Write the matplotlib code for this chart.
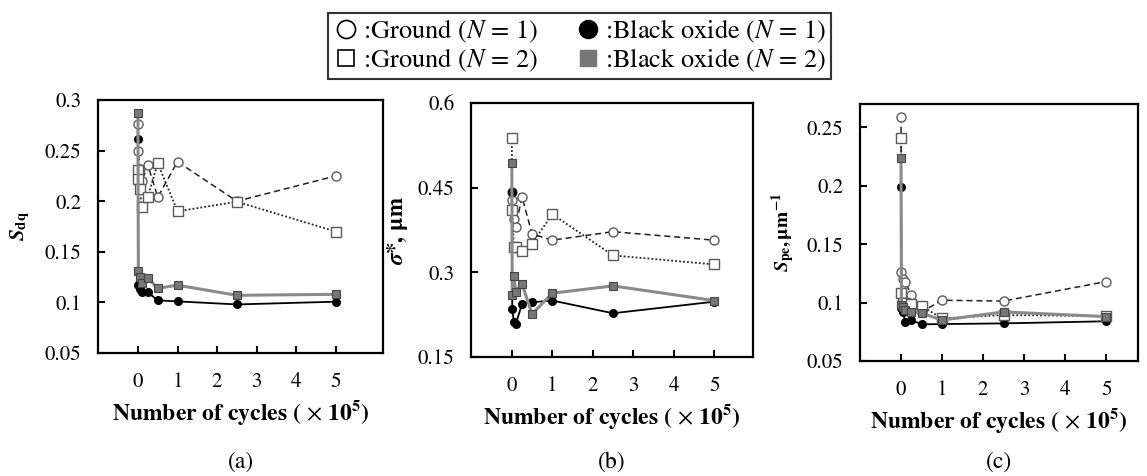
import matplotlib
matplotlib.use("Agg")
import matplotlib.pyplot as plt
from matplotlib.lines import Line2D
from matplotlib.ticker import FixedLocator

plt.rcParams['font.family'] = ['STIXGeneral', 'DejaVu Serif']
plt.rcParams['mathtext.fontset'] = 'stix'

# ---- data (cycles in units of 1e5) ----
cycles = [0, 0.01, 0.05, 0.1, 0.25, 0.5, 1, 2.5, 5]

# (a) Sdq
sdq_ground1 = [0.276, 0.250, 0.232, 0.220, 0.236, 0.204, 0.239, 0.200, 0.225]
sdq_ground2 = [0.231, 0.222, 0.212, 0.1945, 0.2045, 0.2375, 0.190, 0.1995, 0.170]
sdq_black1 = [0.261, 0.117, 0.113, 0.1106, 0.110, 0.102, 0.101, 0.098, 0.1007]
sdq_black2 = [0.287, 0.131, 0.125, 0.119, 0.124, 0.114, 0.117, 0.107, 0.108]

# (b) sigma*
sig_ground1 = [0.443, 0.428, 0.395, 0.381, 0.434, 0.368, 0.357, 0.372, 0.357]
sig_ground2 = [0.5375, 0.410, 0.345, 0.345, 0.338, 0.351, 0.403, 0.330, 0.314]
sig_black1 = [0.443, 0.235, 0.2126, 0.2085, 0.244, 0.247, 0.250, 0.2275, 0.248]
sig_black2 = [0.493, 0.260, 0.2935, 0.266, 0.280, 0.226, 0.263, 0.276, 0.250]

# (c) Spe
spe_ground1 = [0.259, 0.126, 0.120, 0.118, 0.1065, 0.092, 0.102, 0.1013, 0.118]
spe_ground2 = [0.241, 0.108, 0.100, 0.100, 0.099, 0.097, 0.0865, 0.0893, 0.0885]
spe_black1 = [0.199, 0.095, 0.092, 0.0836, 0.085, 0.0814, 0.0816, 0.0822, 0.084]
spe_black2 = [0.224, 0.098, 0.096, 0.094, 0.092, 0.091, 0.085, 0.092, 0.088]

xticks = [0, 1, 2, 3, 4, 5]
yticks_a = [0.05, 0.1, 0.15, 0.2, 0.25, 0.3]
yticks_b = [0.15, 0.3, 0.45, 0.6]
yticks_c = [0.05, 0.1, 0.15, 0.2, 0.25]

legend_labels = [':Ground ($N$ = 1)', ':Ground ($N$ = 2)',
                 ':Black oxide ($N$ = 1)', ':Black oxide ($N$ = 2)']
panel_letters = ['(a)', '(b)', '(c)']

fig = plt.figure(figsize=(11.47, 4.76), dpi=100)

positions = [
    [0.0854, 0.2584, 0.2485, 0.5315],
    [0.4106, 0.2500, 0.2459, 0.5336],
    [0.7498, 0.2416, 0.2424, 0.5400],
]
xlims = [(-1.01, 6.19), (-1.01, 5.96), (-1.0, 5.78)]
ylims = [(0.05, 0.3), (0.15, 0.6), (0.05, 0.27)]
yticks_all = [yticks_a, yticks_b, yticks_c]
ylabels = [r'$\mathbfit{S}_{\mathbf{dq}}$',
           r'$\mathbfit{\sigma}\mathbf{*,\,\mu m}$',
           r'$\mathbfit{S}_{\mathbf{pe}}\mathbf{,}\,\mathbf{\mu m}^{\mathbf{-1}}$']
ylabel_size = [15, 16.5, 14]
ylabel_x = [-0.274, -0.262, -0.277]
data = [
    (sdq_ground1, sdq_ground2, sdq_black1, sdq_black2),
    (sig_ground1, sig_ground2, sig_black1, sig_black2),
    (spe_ground1, spe_ground2, spe_black1, spe_black2),
]

edge_open = '#5a5a5a'
gray_line = '#8a8a8a'
gray_fill = '#777777'

for i in range(3):
    ax = fig.add_axes(positions[i])
    g1, g2, b1, b2 = data[i]
    ax.plot(cycles, g1, linestyle=(0, (4, 2.5)), color='#222222', lw=1.1,
            marker='o', ms=6.5, mfc='white', mec=edge_open, mew=1.0, zorder=3)
    ax.plot(cycles, b1, linestyle='-', color='black', lw=1.3,
            marker='o', ms=5.5, mfc='black', mec='black', zorder=4)
    ax.plot(cycles, g2, linestyle=(0, (1, 1.2)), color='#222222', lw=1.3,
            marker='s', ms=6.5, mfc='white', mec=edge_open, mew=1.0, zorder=5)
    ax.plot(cycles, b2, linestyle='-', color=gray_line, lw=2.2,
            marker='s', ms=6, mfc=gray_fill, mec='#444444', mew=0.8, zorder=6)
    ax.set_xlim(*xlims[i])
    ax.set_ylim(*ylims[i])
    ax.xaxis.set_major_locator(FixedLocator(xticks))
    ax.set_xticklabels([str(t) for t in xticks])
    ax.yaxis.set_major_locator(FixedLocator(yticks_all[i]))
    ax.set_yticklabels([('%g' % t) for t in yticks_all[i]])
    ax.tick_params(direction='in', length=5, width=1.5, labelsize=15, pad=12)
    ax.tick_params(axis='x', pad=14)
    for s in ax.spines.values():
        s.set_linewidth(1.6)
    ax.set_xlabel(r'Number of cycles ( $\times$ 10$^{\mathbf{5}}$)', fontsize=17,
                  fontweight='bold', labelpad=4)
    ax.set_ylabel(ylabels[i], fontsize=ylabel_size[i], fontweight='bold')
    ax.yaxis.label.set_verticalalignment('center')
    ax.yaxis.set_label_coords(ylabel_x[i], 0.5)
    pos = positions[i]
    fig.text(pos[0] + pos[2] / 2, 0.03, panel_letters[i], ha='center',
             va='center', fontsize=17)

handles = [
    Line2D([], [], linestyle='none', marker='o', ms=13, mfc='white', mec='black', mew=1.2),
    Line2D([], [], linestyle='none', marker='s', ms=12, mfc='white', mec='black', mew=1.2),
    Line2D([], [], linestyle='none', marker='o', ms=13, mfc='black', mec='black'),
    Line2D([], [], linestyle='none', marker='s', ms=12, mfc=gray_fill, mec=gray_fill),
]
leg = fig.legend(handles, legend_labels, ncol=2, loc='upper center',
                 bbox_to_anchor=(0.505, 0.973), frameon=True, fancybox=False,
                 edgecolor='black', fontsize=19, handlelength=1.0,
                 handletextpad=0.15, columnspacing=1.4, labelspacing=0.08,
                 borderpad=0.18, borderaxespad=0)
leg.get_frame().set_linewidth(1.5)

fig.savefig('out.png', dpi=100)
